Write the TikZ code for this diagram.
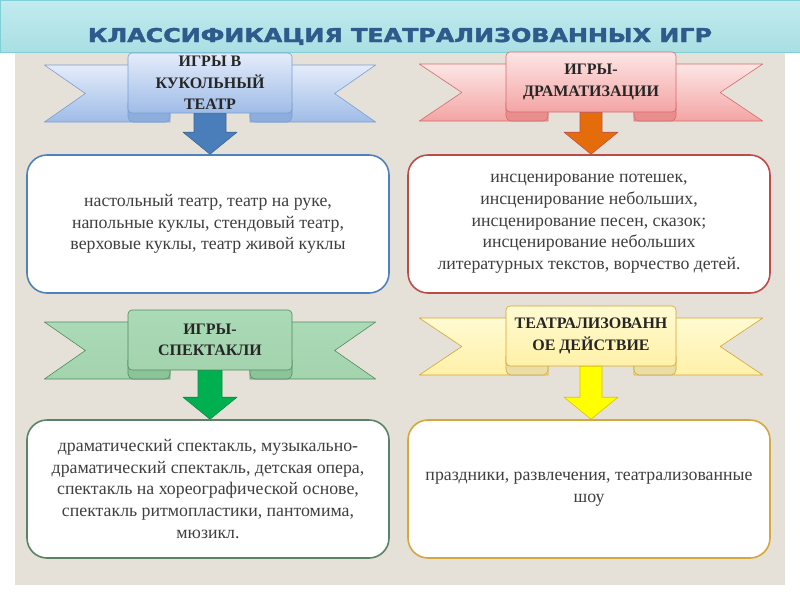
\documentclass[tikz,border=0pt]{standalone}
\usepackage{fontspec}
\usepackage{graphicx}
\setmainfont{Liberation Serif}
\newfontfamily\titlefont[BoldFeatures={FakeBold=2}]{DejaVu Sans}
\usetikzlibrary{calc}
\definecolor{panelbg}{HTML}{E6E1D8}
\definecolor{titleL}{HTML}{C2EBEE}
\definecolor{titleD}{HTML}{A9DFE4}
\definecolor{titleedge}{HTML}{7FCFD7}
\definecolor{titleblue}{HTML}{2E5B8C}
\definecolor{bannertext}{HTML}{262626}
\definecolor{bodytext}{HTML}{3F3F3F}
% ribbon colours: light, dark, fold, edge
\definecolor{blueL}{HTML}{E4ECFA}\definecolor{blueD}{HTML}{9FBCE7}
\definecolor{blueF}{HTML}{8DADDD}\definecolor{blueE}{HTML}{7A9ED3}
\definecolor{redL}{HTML}{FDE6E6}\definecolor{redD}{HTML}{F4A4A4}
\definecolor{redF}{HTML}{E98E8E}\definecolor{redE}{HTML}{D46C6B}
\definecolor{greenL}{HTML}{ABDAB6}\definecolor{greenD}{HTML}{A3D4AE}
\definecolor{greenF}{HTML}{8CC49A}\definecolor{greenE}{HTML}{4E8C5C}
\definecolor{yelL}{HTML}{FFFAD2}\definecolor{yelD}{HTML}{FFF1A8}
\definecolor{yelF}{HTML}{E8DEA6}\definecolor{yelE}{HTML}{D4A532}
% box borders and arrows
\definecolor{boxblue}{HTML}{4F81BD}\definecolor{boxred}{HTML}{BE4B48}
\definecolor{boxgreen}{HTML}{5A8365}\definecolor{boxyel}{HTML}{D6A73A}
\definecolor{arrblue}{HTML}{4A7EBB}\definecolor{arrblueE}{HTML}{3B6795}
\definecolor{arrorange}{HTML}{E46C0A}\definecolor{arrorangeE}{HTML}{C0504D}
\definecolor{arrgreen}{HTML}{00B050}\definecolor{arrgreenE}{HTML}{0B8A40}
\definecolor{arryel}{HTML}{FFFF00}\definecolor{arryelE}{HTML}{D9C400}
\begin{document}
\begin{tikzpicture}[x=1pt, y=-1pt, line join=round, font=\fontsize{17.8}{21.7}\selectfont]
	\tikzset{
		bannerpanel/.style n args={3}{rectangle, rounded corners=4pt, semithick, top color=#1, bottom color=#2, draw=#3,
			align=center, inner sep=0pt, minimum height=60pt, text=bannertext, font=\fontsize{16}{21.3}\selectfont\bfseries},
		infobox/.style={rectangle, draw=#1, line width=1.6pt, rounded corners=20pt, fill=white, align=center,
			inner sep=0pt, minimum width=362pt, minimum height=138pt, text=bodytext}
	}
	\useasboundingbox (0,0) rectangle (800,600);
	\fill [white] (0,0) rectangle (800,600);
	\fill [panelbg] (15,52) rectangle (785,585);
	\draw [titleedge, top color=titleL, bottom color=titleD] (0,0) rectangle (800,52);
	\node [anchor=base, text=titleblue, font=\titlefont\bfseries\fontsize{19}{19}\selectfont] (title) at (400,42)
		{\resizebox{624pt}{\height}{КЛАССИФИКАЦИЯ ТЕАТРАЛИЗОВАННЫХ ИГР}};
	% ribbon wings and folds
	\foreach \cx/\ptop/\w/\wlite/\wdark/\fc/\ec in {210/53/82/blueL/blueD/blueF/blueE, 591/52/85/redL/redD/redF/redE,
		210/310/82/greenL/greenD/greenF/greenE, 591/306/85/yelL/yelD/yelF/yelE}{
		\begin{scope}[shift={(\cx,\ptop)}]
			\foreach \sd in {-1,1}{
				\draw [semithick, draw=\ec, top color=\wlite, bottom color=\wdark] (\sd*2.02*\w,12)--({\sd*(\w-42)},12)--({\sd*(\w-42)},69)--(\sd*2.02*\w,69)--(\sd*1.52*\w,40.5)--cycle;
				\draw [semithick, draw=\ec, fill=\fc, rounded corners=5pt] ({\sd*(\w-42)},50)--({\sd*(\w-42)},69)--(\sd*\w,69)--(\sd*\w,50);
			}
		\end{scope}
	}
	% ribbon panels
	\node [bannerpanel={blueL}{blueD}{blueE}, minimum width=164pt] (puppet) at (210,83) {ИГРЫ В\\КУКОЛЬНЫЙ\\ТЕАТР};
	\node [bannerpanel={redL}{redD}{redE}, minimum width=170pt] (drama) at (591,82) {ИГРЫ-\\ДРАМАТИЗАЦИИ};
	\node [bannerpanel={greenL}{greenD}{greenE}, minimum width=164pt] (show) at (210,340) {ИГРЫ-\\СПЕКТАКЛИ};
	\node [bannerpanel={yelL}{yelD}{yelE}, minimum width=170pt] (action) at (591,336) {ТЕАТРАЛИЗОВАНН\\ОЕ ДЕЙСТВИЕ};
	% boxes
	\node [infobox=boxblue] (puppetbox) at (208,224) {настольный театр, театр на руке,\\напольные куклы, стендовый театр,\\верховые куклы, театр живой куклы};
	\node [infobox=boxred] (dramabox) at (589,224) {инсценирование потешек,\\инсценирование небольших,\\инсценирование песен, сказок;\\инсценирование небольших\\литературных текстов, ворчество детей.};
	\node [infobox=boxgreen] (showbox) at (208,489) {драматический спектакль, музыкально-\\драматический спектакль, детская опера,\\спектакль на хореографической основе,\\спектакль ритмопластики, пантомима,\\мюзикл.};
	\node [infobox=boxyel] (actionbox) at (589,489) {праздники, развлечения, театрализованные\\шоу};
	% block arrows
	\foreach \a/\b/\fc/\dc/\sw in {puppet/puppetbox/arrblue/arrblueE/16pt, drama/dramabox/arrorange/arrorangeE/11pt,
		show/showbox/arrgreen/arrgreenE/12pt, action/actionbox/arryel/arryelE/11pt}{
		\draw [semithick, fill=\fc, draw=\dc] let \p1=(\a.south), \p2=(\b.north) in
			(\x1-\sw,\y1)--(\x1+\sw,\y1)--(\x1+\sw,\y2+22pt)--(\x1+27pt,\y2+22pt)--(\x1,\y2)--(\x1-27pt,\y2+22pt)--(\x1-\sw,\y2+22pt)--cycle;
	}
\end{tikzpicture}
\end{document}
